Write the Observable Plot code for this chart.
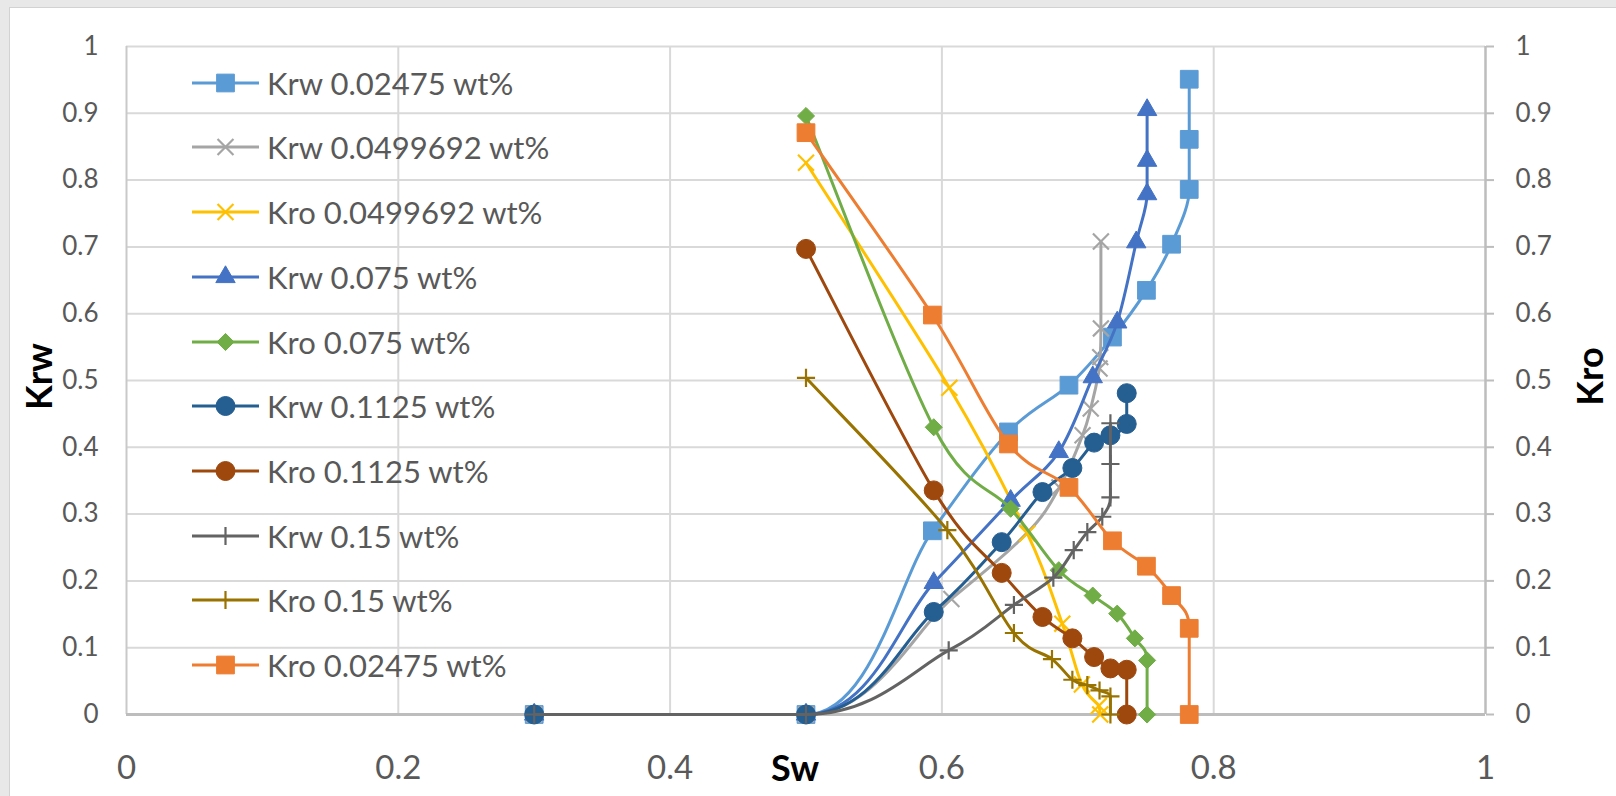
<!DOCTYPE html>
<html>
<head>
<meta charset="utf-8">
<script src="https://cdn.jsdelivr.net/npm/d3@7"></script>
<script src="https://cdn.jsdelivr.net/npm/@observablehq/plot@0.6"></script>
<style>
  html, body { margin: 0; padding: 0; background: #e8e8e8; }
  #wrap { position: relative; width: 1616px; height: 796px; overflow: hidden; }
  #card { position: absolute; left: 9px; top: 7px; right: 0; bottom: 0; background: #ffffff;
          border-left: 1px solid #d2d2d2; border-top: 1px solid #d2d2d2; }
  #chart { position: absolute; left: 0; top: 0; }
  #legend { position: absolute; left: 192px; top: 0; font-family: Lato, "Open Sans", sans-serif;
            font-size: 31px; color: #595959; }
  .row { position: absolute; left: 0; height: 40px; display: flex; align-items: center; white-space: nowrap; }
  .row svg { flex: none; }
  .row span { margin-left: 8px; }
</style>
</head>
<body>
<div id="wrap">
  <div id="card"></div>
  <div id="chart"></div>
  <div id="legend"></div>
</div>
<script>
// ---------- tick labels ----------
const xTicks = [0, 0.2, 0.4, 0.6, 0.8, 1];
const yTicks = [0, 0.1, 0.2, 0.3, 0.4, 0.5, 0.6, 0.7, 0.8, 0.9, 1];

// ---------- series (Sw, value) ----------
const swKrw02475 = [0.3, 0.5, 0.593, 0.649, 0.6935, 0.7255, 0.7505, 0.769, 0.782, 0.782, 0.782];
const krw02475   = [0, 0, 0.275, 0.423, 0.493, 0.565, 0.635, 0.704, 0.786, 0.861, 0.951];

const swKrw0499692 = [0.3, 0.5, 0.607, 0.6628, 0.6865, 0.7035, 0.7095, 0.716, 0.7165, 0.717, 0.717];
const krw0499692   = [0, 0, 0.173, 0.272, 0.34, 0.418, 0.458, 0.518, 0.535, 0.578, 0.708];

const swKro0499692 = [0.5, 0.6055, 0.6628, 0.6886, 0.703, 0.7155, 0.7165];
const kro0499692   = [0.826, 0.489, 0.271, 0.136, 0.045, 0.013, 0];

const swKrw075 = [0.3, 0.5, 0.594, 0.6506, 0.686, 0.711, 0.729, 0.743, 0.751, 0.751, 0.751];
const krw075   = [0, 0, 0.197, 0.32, 0.393, 0.505, 0.587, 0.707, 0.779, 0.829, 0.905];

const swKro075 = [0.5, 0.594, 0.6506, 0.686, 0.711, 0.729, 0.742, 0.751, 0.751];
const kro075   = [0.896, 0.43, 0.308, 0.216, 0.178, 0.151, 0.114, 0.081, 0];

const swKrw1125 = [0.3, 0.5, 0.594, 0.644, 0.674, 0.696, 0.712, 0.724, 0.736, 0.736];
const krw1125   = [0, 0, 0.1535, 0.258, 0.333, 0.369, 0.407, 0.418, 0.435, 0.481];

const swKro1125 = [0.5, 0.594, 0.644, 0.674, 0.696, 0.712, 0.724, 0.736, 0.736];
const kro1125   = [0.697, 0.3355, 0.212, 0.146, 0.114, 0.086, 0.069, 0.067, 0];

const swKrw15 = [0.3, 0.5, 0.605, 0.653, 0.682, 0.697, 0.707, 0.718, 0.724, 0.724, 0.724];
const krw15   = [0, 0, 0.096, 0.164, 0.205, 0.246, 0.273, 0.296, 0.325, 0.375, 0.436];

const swKro15 = [0.5, 0.604, 0.653, 0.681, 0.696, 0.707, 0.716, 0.724, 0.724];
const kro15   = [0.504, 0.276, 0.122, 0.083, 0.052, 0.044, 0.036, 0.027, 0];

const swKro02475 = [0.5, 0.593, 0.649, 0.6935, 0.7255, 0.7505, 0.769, 0.782, 0.782];
const kro02475   = [0.871, 0.598, 0.405, 0.34, 0.26, 0.222, 0.178, 0.129, 0];

// ---------- series names, in drawing / legend order ----------
const seriesNames = [
  "Krw 0.02475 wt%", "Krw 0.0499692 wt%", "Kro 0.0499692 wt%", "Krw 0.075 wt%", "Kro 0.075 wt%",
  "Krw 0.1125 wt%", "Kro 0.1125 wt%", "Krw 0.15 wt%", "Kro 0.15 wt%", "Kro 0.02475 wt%"
];
const seriesSw = [swKrw02475, swKrw0499692, swKro0499692, swKrw075, swKro075,
                  swKrw1125, swKro1125, swKrw15, swKro15, swKro02475];
const seriesVal = [krw02475, krw0499692, kro0499692, krw075, kro075,
                   krw1125, kro1125, krw15, kro15, kro02475];

// ---------- styles ----------
const seriesColor = ["#5B9BD5", "#A5A5A5", "#FFC000", "#4472C4", "#70AD47",
                     "#255E91", "#9E480E", "#636363", "#997300", "#ED7D31"];
const seriesSymbol = ["square", "times", "times", "triangle", "diamond2",
                      "circle", "circle", "plus", "plus", "square"];
const symbolR = { square: 10, times: 7.3, triangle: 7.2, diamond2: 7.7, circle: 9.5, plus: 5.9 };
const strokeOnly = { times: true, plus: true };

// Smoothed line (Catmull-Rom style bezier, flattened at local extrema, no overshoot)
function SmoothCurve(context) { this._context = context; }
SmoothCurve.prototype = {
  areaStart() { this._line = 0; },
  areaEnd() { this._line = NaN; },
  lineStart() { this._pts = []; },
  point(x, y) { this._pts.push([+x, +y]); },
  lineEnd() {
    const p = this._pts, n = p.length, c = this._context;
    if (!n) return;
    c.moveTo(p[0][0], p[0][1]);
    if (n === 1) return;
    const T = p.map((pt, i) => {
      const a = p[Math.max(0, i - 1)], b = p[Math.min(n - 1, i + 1)];
      let tx = (b[0] - a[0]) / 2, ty = (b[1] - a[1]) / 2;
      if (i > 0 && i < n - 1) {
        if ((pt[0] - a[0]) * (b[0] - pt[0]) <= 0) tx = 0;
        if ((pt[1] - a[1]) * (b[1] - pt[1]) <= 0) ty = 0;
      }
      return [tx, ty];
    });
    const clamp = (v, a, b) => Math.max(Math.min(a, b), Math.min(Math.max(a, b), v));
    for (let i = 0; i < n - 1; i++) {
      const p1 = p[i], p2 = p[i + 1];
      const c1x = clamp(p1[0] + T[i][0] / 3, p1[0], p2[0]);
      const c1y = clamp(p1[1] + T[i][1] / 3, p1[1], p2[1]);
      const c2x = clamp(p2[0] - T[i + 1][0] / 3, p1[0], p2[0]);
      const c2y = clamp(p2[1] - T[i + 1][1] / 3, p1[1], p2[1]);
      c.bezierCurveTo(c1x, c1y, c2x, c2y, p2[0], p2[1]);
    }
  }
};
const smoothCurve = (context) => new SmoothCurve(context);

const series = seriesNames.map((name, i) => ({
  name, color: seriesColor[i], symbol: seriesSymbol[i],
  data: seriesSw[i].map((sw, j) => ({ sw, v: seriesVal[i][j] }))
}));

const titleFont = { fontSize: 36, fontWeight: "bold", fill: "#000", textAnchor: "middle" };

const marks = [
  Plot.ruleY(yTicks.filter(d => d > 0), { stroke: "#d9d9d9", strokeWidth: 2 }),
  Plot.ruleX(xTicks.filter(d => d > 0 && d < 1), { stroke: "#d9d9d9", strokeWidth: 2 }),
  Plot.ruleX([0], { stroke: "#c9c9c9", strokeWidth: 2 }),
  Plot.ruleX([1], { stroke: "#bdbdbd", strokeWidth: 2.5 }),
  Plot.ruleY([0], { stroke: "#bdbdbd", strokeWidth: 3 }),
  Plot.axisX({ ticks: xTicks, tickSize: 0, tickPadding: 41, fontSize: 33, fill: "#595959",
               tickFormat: d => String(d), label: null }),
  Plot.axisY({ ticks: yTicks, anchor: "left", tickSize: 0, tickPadding: 28, fontSize: 26, fill: "#595959",
               tickFormat: d => String(d), label: null }),
  Plot.axisY({ ticks: yTicks, anchor: "right", tickSize: 8, tickPadding: 22, fontSize: 26, fill: "#595959",
               stroke: "#bdbdbd", strokeWidth: 2, tickFormat: d => String(d), label: null }),
  Plot.text(["Krw"], { text: d => d, frameAnchor: "left", dx: -86, dy: -4, rotate: -90, ...titleFont }),
  Plot.text(["Kro"], { text: d => d, frameAnchor: "right", dx: 106, dy: -4, rotate: -90, ...titleFont }),
  Plot.text(["Sw"], { text: d => d, frameAnchor: "bottom", dy: 66, dx: -11, ...titleFont })
];

for (const s of series) {
  marks.push(Plot.line(s.data, { x: "sw", y: "v", stroke: s.color, strokeWidth: 3, curve: smoothCurve,
                                 strokeLinejoin: "round", strokeLinecap: "round" }));
  const so = strokeOnly[s.symbol];
  marks.push(Plot.dot(s.data, { x: "sw", y: "v", symbol: s.symbol, r: symbolR[s.symbol],
                                fill: so ? "none" : s.color, stroke: s.color, strokeWidth: so ? 2.2 : 1 }));
}

const chart = Plot.plot({
  width: 1616, height: 796,
  marginLeft: 126, marginRight: 131, marginTop: 46, marginBottom: 82,
  x: { domain: [0, 1] },
  y: { domain: [0, 1] },
  style: { fontFamily: "Lato, 'Open Sans', sans-serif", background: "transparent", color: "#595959" },
  marks
});
document.getElementById("chart").appendChild(chart);

// ---------- legend ----------
const legend = d3.select("#legend");
const symMap = { square: d3.symbolSquare, times: d3.symbolTimes, triangle: d3.symbolTriangle,
                 diamond2: d3.symbolDiamond2, circle: d3.symbolCircle, plus: d3.symbolPlus };
series.forEach((s, i) => {
  const cy = 82.7 + i * 64.7;
  const row = legend.append("div").attr("class", "row").style("top", (cy - 20) + "px");
  const svg = row.append("svg").attr("width", 67).attr("height", 40);
  svg.append("line").attr("x1", 0).attr("x2", 67).attr("y1", 20).attr("y2", 20)
     .attr("stroke", s.color).attr("stroke-width", 3);
  const r = symbolR[s.symbol];
  const so = strokeOnly[s.symbol];
  svg.append("path").attr("transform", "translate(33.5,20)")
     .attr("d", d3.symbol(symMap[s.symbol], Math.PI * r * r)())
     .attr("fill", so ? "none" : s.color).attr("stroke", s.color).attr("stroke-width", so ? 2.2 : 1);
  row.append("span").text(s.name);
});
</script>
</body>
</html>
